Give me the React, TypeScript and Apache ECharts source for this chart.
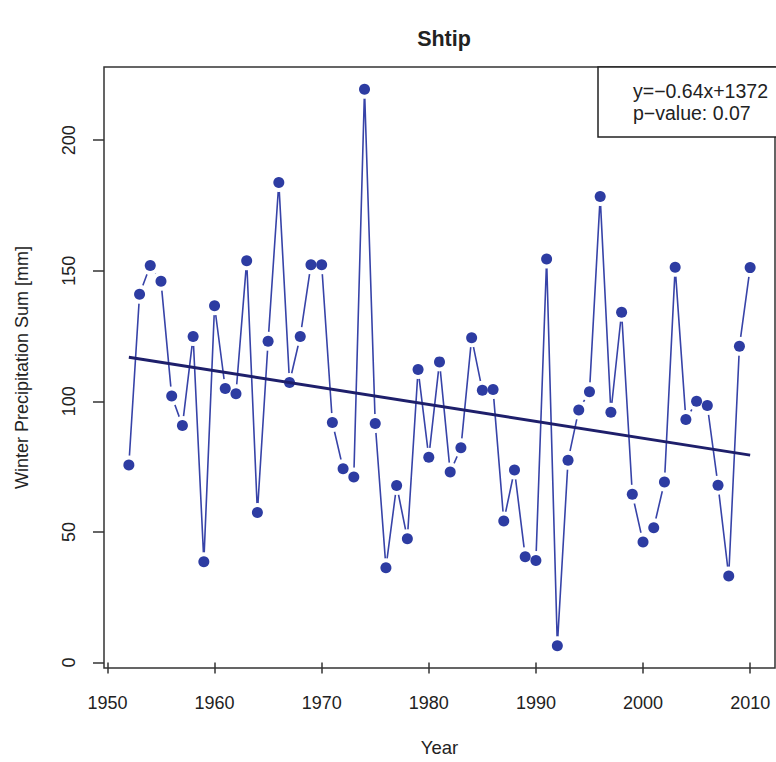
import React, { useEffect, useRef } from "react";
import * as echarts from "echarts";

const years = [
  1952, 1953, 1954, 1955, 1956, 1957, 1958, 1959, 1960, 1961,
  1962, 1963, 1964, 1965, 1966, 1967, 1968, 1969, 1970, 1971,
  1972, 1973, 1974, 1975, 1976, 1977, 1978, 1979, 1980, 1981,
  1982, 1983, 1984, 1985, 1986, 1987, 1988, 1989, 1990, 1991,
  1992, 1993, 1994, 1995, 1996, 1997, 1998, 1999, 2000, 2001,
  2002, 2003, 2004, 2005, 2006, 2007, 2008, 2009, 2010,
];
const precipitation = [
  75.6, 141.0, 152.0, 146.0, 102.0, 90.7, 124.8, 38.6, 136.6, 104.9,
  102.9, 153.8, 57.4, 123.0, 183.8, 107.2, 124.8, 152.3, 152.3, 91.9,
  74.2, 71.0, 219.5, 91.5, 36.3, 67.8, 47.4, 112.2, 78.6, 115.1,
  72.9, 82.2, 124.3, 104.2, 104.5, 54.2, 73.7, 40.5, 39.0, 154.5,
  6.4, 77.4, 96.7, 103.7, 178.4, 95.8, 134.1, 64.4, 46.1, 51.6,
  69.1, 151.3, 93.0, 100.0, 98.4, 67.9, 33.1, 121.1, 151.2,
];
// trend line as drawn in the reference (value at first and last year)
const trendYears = [1952, 2010];
const trendValues = [116.9, 79.4];
const xTicks = [1950, 1960, 1970, 1980, 1990, 2000, 2010];
const yTicks = [0, 50, 100, 150, 200];
const chartTitle = "Shtip";
const xTitle = "Year";
const yTitle = "Winter Precipitation Sum [mm]";
const fitLabel = "y=\u22120.64x+1372";
const pLabel = "p\u2212value: 0.07";

const FONT = "'Liberation Sans', Arial, Helvetica, sans-serif";

export default function App() {
  const ref = useRef<HTMLDivElement>(null);
  useEffect(() => {
    const chart = echarts.init(ref.current!, null, { renderer: "svg" });
    const n = years.length;
    const x0 = years[0];
    const x1 = years[n - 1];
    const xPad = 0.04 * (x1 - x0);
    const yLo = Math.min(...precipitation);
    const yHi = Math.max(...precipitation);
    const yPad = 0.04 * (yHi - yLo);
    const pts = years.map((y, i) => [y, precipitation[i]]);
    const trend = trendYears.map((y, i) => [y, trendValues[i]]);

    chart.setOption({
      animation: false,
      backgroundColor: "#ffffff",
      title: {
        text: chartTitle,
        left: 439,
        top: 23,
        textAlign: "center",
        textStyle: { fontFamily: FONT, fontSize: 21.5, fontWeight: "bold", color: "#222" },
      },
      grid: {
        left: 104,
        right: 1,
        top: 67,
        bottom: 93,
        show: true,
        borderColor: "#333",
        borderWidth: 1.5,
        backgroundColor: "transparent",
      },
      xAxis: {
        type: "value",
        min: x0 - xPad,
        max: x1 + xPad,
        name: xTitle,
        nameLocation: "middle",
        nameGap: 70,
        nameTextStyle: { fontFamily: FONT, fontSize: 18.5, color: "#222" },
        axisLine: { show: false },
        splitLine: { show: false },
        axisTick: {
          show: true,
          inside: false,
          length: 11,
          customValues: xTicks,
          lineStyle: { color: "#333", width: 1.5 },
        },
        axisLabel: {
          customValues: xTicks,
          formatter: (v: number) => String(v),
          margin: 26,
          fontFamily: FONT,
          fontSize: 18,
          color: "#222",
        },
      },
      yAxis: {
        type: "value",
        min: yLo - yPad,
        max: yHi + yPad,
        name: yTitle,
        nameLocation: "middle",
        nameGap: 73,
        nameRotate: 90,
        nameTextStyle: { fontFamily: FONT, fontSize: 18, color: "#222" },
        axisLine: { show: false },
        splitLine: { show: false },
        axisTick: {
          show: true,
          inside: false,
          length: 11,
          customValues: yTicks,
          lineStyle: { color: "#333", width: 1.5 },
        },
        axisLabel: {
          customValues: yTicks,
          formatter: (v: number) => String(v),
          rotate: 90,
          margin: 26,
          fontFamily: FONT,
          fontSize: 18,
          color: "#222",
        },
      },
      series: [
        {
          type: "line",
          data: pts,
          showSymbol: false,
          clip: false,
          lineStyle: { color: "#3743A8", width: 1.6 },
          z: 2,
        },
        {
          type: "scatter",
          data: pts,
          symbol: "circle",
          symbolSize: 19,
          itemStyle: { color: "#ffffff", opacity: 1 },
          z: 3,
          silent: true,
        },
        {
          type: "scatter",
          data: pts,
          symbol: "circle",
          symbolSize: 11,
          itemStyle: { color: "#2D3CA2", opacity: 1 },
          z: 4,
        },
        {
          type: "line",
          data: trend,
          showSymbol: false,
          lineStyle: { color: "#1E1F6B", width: 3 },
          z: 5,
        },
      ],
      graphic: [
        {
          type: "rect",
          shape: { x: 598, y: 67, width: 200, height: 70 },
          style: { fill: "#ffffff", stroke: "#222", lineWidth: 1.5 },
          z: 10,
        },
        {
          type: "text",
          x: 633,
          y: 91,
          style: {
            text: fitLabel,
            fontFamily: FONT,
            fontSize: 19.5,
            fill: "#222",
            verticalAlign: "middle",
          },
          z: 11,
        },
        {
          type: "text",
          x: 633,
          y: 113,
          style: {
            text: pLabel,
            fontFamily: FONT,
            fontSize: 19.5,
            fill: "#222",
            verticalAlign: "middle",
          },
          z: 11,
        },
      ],
    });
    return () => chart.dispose();
  }, []);
  return (
    <div
      ref={ref}
      style={{ position: "fixed", left: 0, top: 0, width: 776, height: 762 }}
    />
  );
}
